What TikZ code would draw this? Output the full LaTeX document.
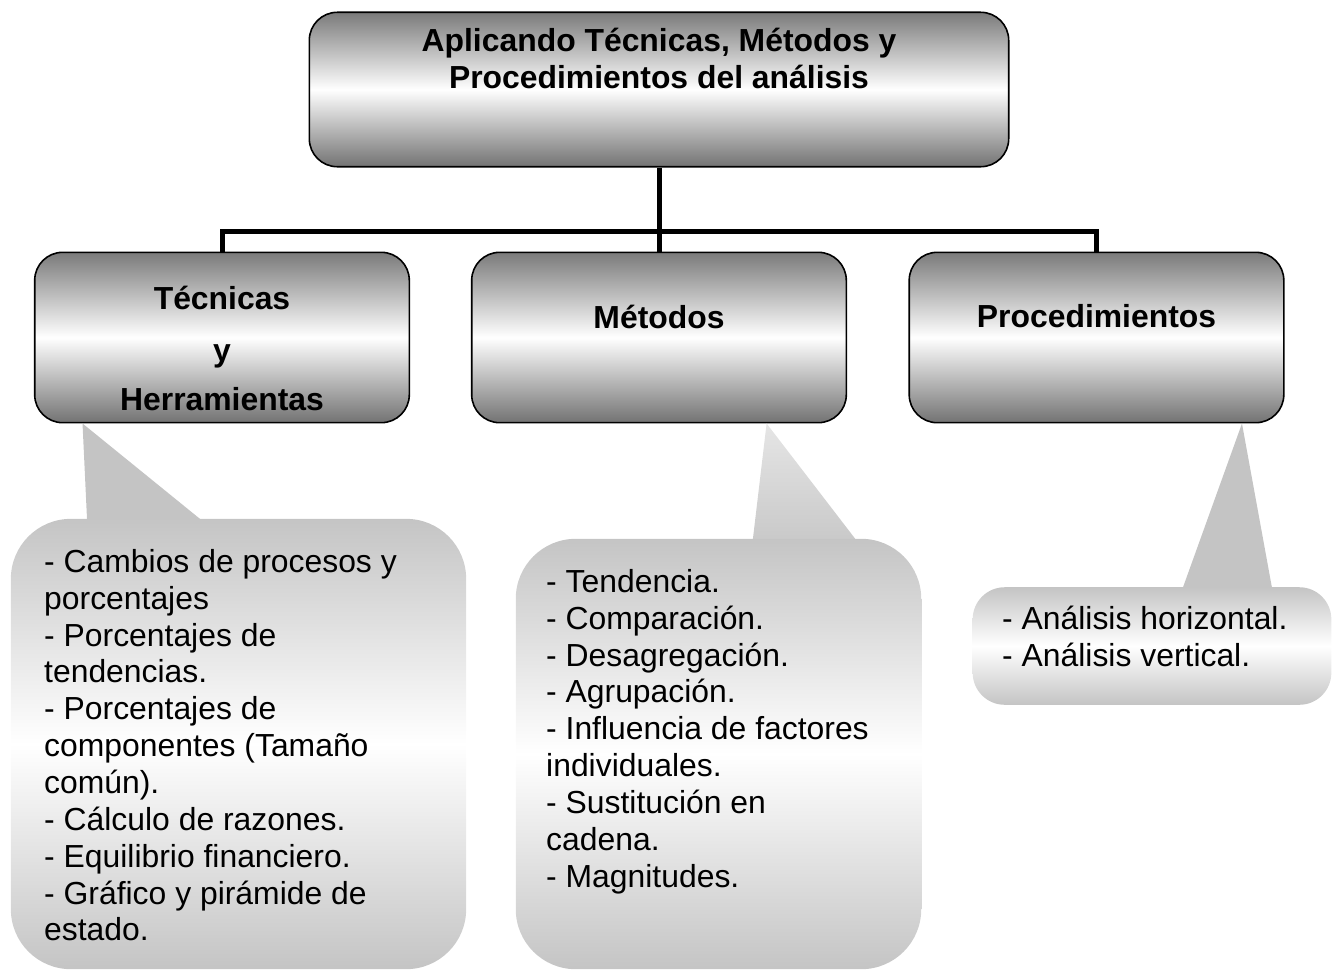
\documentclass[tikz,border=0pt]{standalone}
\usepackage{fontspec}
\setmainfont{Liberation Sans}
\usetikzlibrary{positioning}
\begin{document}
\begin{tikzpicture}[x=1bp,y=1bp]
        \tikzstyle{header}=[draw=black,line width=1.6bp,rounded corners=28bp,top color=black!52,bottom color=black!55,middle color=white,inner sep=0pt]
        \tikzstyle{title}=[font=\fontsize{32}{37}\selectfont\bfseries,align=center,inner sep=0pt]
        \tikzstyle{callout}=[rounded corners=60bp,top color=black!23,bottom color=black!23,middle color=white,inner sep=0pt]
        \tikzstyle{items}=[font=\fontsize{32}{37}\selectfont,align=left,anchor=north west,inner sep=0pt]
        \tikzstyle{link}=[draw,line width=5bp]
        \useasboundingbox (0,0) rectangle (1339,-970);
       \begin{scope}
         % boxes of the tree
         \node [header,minimum width=702,minimum height=155] (top) at (659,-89.5) {};
         \node [header,minimum width=376,minimum height=171] (tec) at (222,-337.5) {};
         \node [header,minimum width=376,minimum height=171] (met) at (659,-337.5) {};
         \node [header,minimum width=376,minimum height=171] (proc) at (1096.5,-337.5) {};
         \node [title] (ttop) at ([yshift=31]top.center) {Aplicando Técnicas, Métodos y\\Procedimientos del análisis};
         \node [title] (ttec) at ([yshift=-11]tec.center) {Técnicas\\[15bp]y\\[13bp]Herramientas};
         \node [title] (tmet) at ([yshift=21]met.center) {Métodos};
         \node [title] (tproc) at ([yshift=21]proc.center) {Procedimientos};
         \path[link] (top) -- (met);
         \path[link] (tec.north) -- ++(0,20) -| (proc.north);
        \end{scope}
       \begin{scope}
         % callouts
         \fill [black!23] ([xshift=-140]tec.south) -- (88,-540) -- (226,-540) -- cycle;
         \shade [top color=black!10,bottom color=black!23] ([xshift=108]met.south) -- (750.4,-560) -- (871.5,-560) -- cycle;
         \shade [top color=black!23,middle color=white,bottom color=black!23] ([xshift=146]proc.south) -- (1178.4,-600) -- (1274.2,-600) -- cycle;
         \node [callout,minimum width=457,minimum height=452] (ctec) at (238.5,-744) {};
         \node [callout,minimum width=407,minimum height=432] (cmet) at (718.5,-754) {};
         \node [callout,rounded corners=32bp,minimum width=360,minimum height=118] (cproc) at (1152,-646) {};
         \node [items] (ltec) at (44,-549) {- Cambios de procesos y\\porcentajes\\- Porcentajes de\\tendencias.\\- Porcentajes de\\componentes (Tamaño\\común).\\- Cálculo de razones.\\- Equilibrio financiero.\\- Gráfico y pirámide de\\estado.};
         \node [items] (lmet) at (546,-569) {- Tendencia.\\- Comparación.\\- Desagregación.\\- Agrupación.\\- Influencia de factores\\individuales.\\- Sustitución en\\cadena.\\- Magnitudes.};
         \node [items] (lproc) at (1002,-606) {- Análisis horizontal.\\- Análisis vertical.};
        \end{scope}
      \end{tikzpicture}
\end{document}
